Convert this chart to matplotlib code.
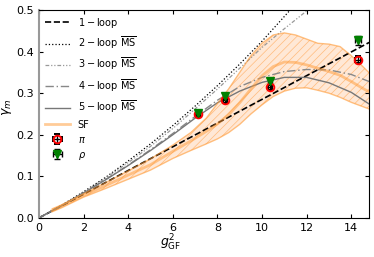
import numpy as np
import matplotlib
matplotlib.use('Agg')
import matplotlib.pyplot as plt

# perturbative curves
x_1l = [0.0, 14.8]
y_1l = [0.0, 0.422]

x_2l = [0, 1, 2, 3, 4, 5, 6, 7, 8, 9, 10, 11.26]
y_2l = [0, 0.030, 0.063, 0.098, 0.137, 0.178, 0.222, 0.269, 0.318, 0.370, 0.425, 0.5]

x_3l = [0, 1, 2, 3, 4, 5, 6, 7, 8, 9, 10, 11, 12.05]
y_3l = [0, 0.029, 0.061, 0.096, 0.133, 0.172, 0.215, 0.262, 0.310, 0.360, 0.410, 0.455, 0.5]

x_45 = [0, 1, 2, 3, 4, 5, 6, 7, 8, 9, 10, 11, 12, 13, 14, 14.8]
y_4l = [0, 0.029, 0.060, 0.093, 0.127, 0.164, 0.203, 0.244, 0.283, 0.316, 0.338, 0.352, 0.357, 0.356, 0.345, 0.328]
y_5l = [0, 0.029, 0.060, 0.092, 0.126, 0.162, 0.200, 0.240, 0.277, 0.305, 0.326, 0.338, 0.338, 0.325, 0.302, 0.274]

# SF band
sf_x = [0.6, 1, 2, 3, 4, 5, 6, 6.8, 7.5, 8, 8.5, 9, 9.5, 10, 10.5, 11, 11.5, 12, 12.5, 13, 13.5, 14, 14.5, 14.8]
sf_mid = [0.018, 0.028, 0.054, 0.078, 0.103, 0.128, 0.160, 0.185, 0.208, 0.226, 0.248, 0.277, 0.310, 0.342, 0.364, 0.375, 0.374, 0.368, 0.360, 0.352, 0.343, 0.328, 0.312, 0.303]
sf_hi = [0.022, 0.031, 0.058, 0.085, 0.113, 0.142, 0.175, 0.205, 0.240, 0.275, 0.310, 0.350, 0.390, 0.420, 0.440, 0.445, 0.440, 0.430, 0.420, 0.418, 0.412, 0.390, 0.365, 0.349]
sf_lo = [0.015, 0.024, 0.050, 0.071, 0.093, 0.115, 0.143, 0.162, 0.178, 0.190, 0.205, 0.225, 0.250, 0.272, 0.292, 0.305, 0.312, 0.313, 0.307, 0.300, 0.290, 0.278, 0.268, 0.262]

# lattice points
g2_pts = [7.14, 8.34, 10.36, 14.3]
g2_err = [0.10, 0.10, 0.10, 0.12]
pi_vals = [0.249, 0.283, 0.314, 0.381]
pi_err = [0.006, 0.006, 0.006, 0.008]
rho_vals = [0.252, 0.293, 0.330, 0.427]
rho_err = [0.006, 0.008, 0.007, 0.010]

plt.rcParams['font.family'] = 'DejaVu Sans'
plt.rcParams['mathtext.fontset'] = 'dejavusans'
plt.rcParams['hatch.linewidth'] = 0.5

fig = plt.figure(figsize=(3.74, 2.57), dpi=100)
ax = fig.add_axes([0.104, 0.152, 0.883, 0.809])

ax.plot(x_1l, y_1l, color='black', ls='--', lw=1.2, label=r'$1-$loop')
ax.plot(x_2l, y_2l, color='black', ls=':', lw=0.9, label=r'$2-$loop $\overline{\rm MS}$')
ax.plot(x_3l, y_3l, color='#999999', ls=(0, (3, 1.5, 1, 1.5, 1, 1.5)), lw=0.9,
        label=r'$3-$loop $\overline{\rm MS}$')
ax.plot(x_45, y_4l, color='#888888', ls=(0, (6, 2, 1, 2)), lw=1.0,
        label=r'$4-$loop $\overline{\rm MS}$')
ax.plot(x_45, y_5l, color='#777777', ls='-', lw=1.0,
        label=r'$5-$loop $\overline{\rm MS}$')

orange = '#ff9933'
ax.fill_between(sf_x, sf_lo, sf_hi, facecolor='#ffe3cc', alpha=0.8,
                edgecolor='#ffb066', hatch='////', lw=0)
ax.plot(sf_x, sf_hi, color=orange, lw=1.0, alpha=0.6)
ax.plot(sf_x, sf_lo, color=orange, lw=1.0, alpha=0.6)
ax.plot(sf_x, sf_mid, color=orange, lw=2.0, alpha=0.5, label='SF')

ax.errorbar(g2_pts, pi_vals, xerr=g2_err, yerr=pi_err, fmt='o', ms=5.5,
            mfc='none', mec='red', mew=1.4, ecolor='black', elinewidth=1,
            capsize=2, label=r'$\pi$', zorder=5)
ax.errorbar(g2_pts, rho_vals, xerr=g2_err, yerr=rho_err, fmt='v', ms=5.5,
            mfc='green', mec='green', mew=1, ecolor='black', elinewidth=1,
            capsize=2, label=r'$\rho$', zorder=5)

ax.set_xlim(0, 14.8)
ax.set_ylim(0, 0.5)
ax.set_xticks(range(0, 15, 2))
ax.set_yticks([0.0, 0.1, 0.2, 0.3, 0.4, 0.5])
ax.tick_params(direction='in', top=True, right=True, labelsize=8, length=3)
ax.spines['left'].set_color('#999999')
ax.spines['left'].set_linewidth(1.5)

ax.set_xlabel(r'$g^2_{\rm GF}$', fontsize=9)
ax.xaxis.set_label_coords(0.4, -0.07)
ax.set_ylabel(r'$\gamma_m$', fontsize=9)
ax.yaxis.set_label_coords(-0.075, 0.53)

ax.legend(loc='upper left', fontsize=7, frameon=False, handlelength=2.6,
          labelspacing=0.5, borderaxespad=0.2, handletextpad=0.8)

fig.savefig('out.png', dpi=100)
